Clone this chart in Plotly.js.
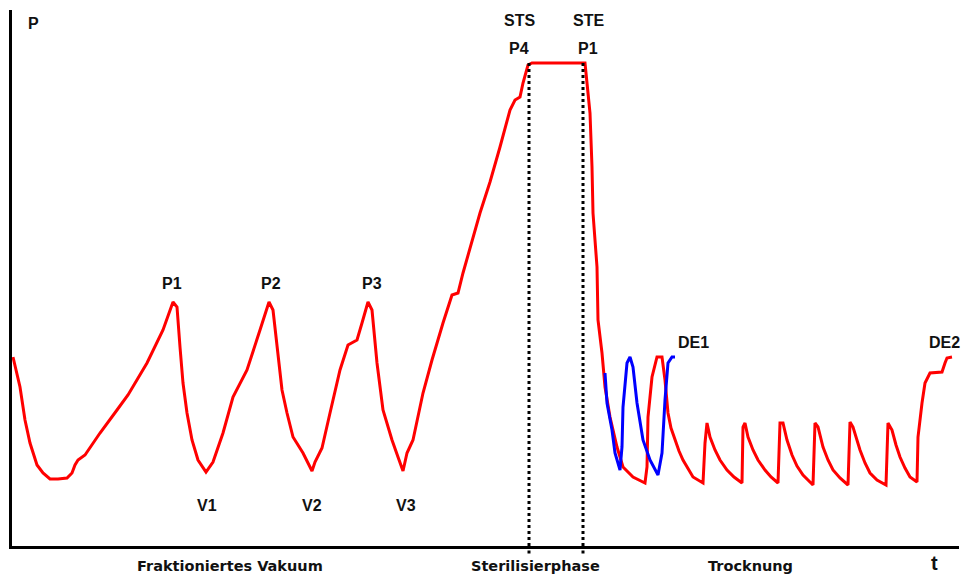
<!DOCTYPE html>
<html>
<head>
<meta charset="utf-8">
<script src="https://cdn.plot.ly/plotly-3.0.1.min.js"></script>
<style>html,body{margin:0;padding:0;background:#fff;}#chart{width:962px;height:576px;}</style>
</head>
<body>
<div id="chart"></div>
<script>
// Pressure curve of a sterilisation cycle (time, pressure) in arbitrary units
const redTime = [13,20,25,30,37,43,50,58,67,72,75,78,85,100,117,128,147,163,173,177,180,183,187,192,198,206,213,223,233,247,260,269,273,277,282,287,293,303,312,315,322,330,340,348,357,362,368,372,377,383,392,398,403,407,413,423,432,443,452,458,463,480,490,500,510,515,520,523,528,532,582,585,587,590,592,593,597,598,602,605,610,617,623,633,645,647,648,652,657,
  662,665,668,671,675,679,683,688,693,703,705,707,710,715,720,727,734,742,743,745,748,753,758,765,771,778,780,783,787,792,797,803,813,815,818,823,828,833,840,848,850,853,860,865,870,877,886,888,892,896,900,905,910,917,918,922,925,930,942,945,947,952];
const redPressure = [189,159,126,103,81,73,67,67,68,73,81,86,91,113,136,151,183,216,244,239,199,163,133,106,86,74,84,113,149,176,216,244,236,199,156,133,109,93,75,84,98,133,176,201,206,223,244,236,183,136,106,89,75,93,106,153,186,223,251,253,273,333,364,399,436,446,449,463,481,483,483,483,463,433,379,333,279,226,193,159,129,99,79,69,63,79,129,169,189,
  189,166,133,118,106,95,86,77,69,63,103,123,109,96,86,76,69,63,119,123,109,96,86,76,69,63,123,123,106,91,80,71,61,123,119,99,86,76,68,61,124,119,96,83,73,66,61,123,116,101,89,78,69,64,109,143,163,173,174,183,188,189];
const blueTime = [605,607,612,615,620,622,623,627,630,633,637,643,650,658,662,665,668,672,675];
const bluePressure = [173,143,116,93,76,99,139,183,189,179,143,106,86,71,93,146,183,189,189];

// phase boundaries (STS / STE)
const phaseTimes = [529, 583];
const phaseTopPressure = 483;

// point labels
const labelText = ['P1','P2','P3','V1','V2','V3','STS','P4','STE','P1','DE1','DE2','P'];
const labelTime = [172,271,372,207,312,406,519,519,588,588,693,944,33];
const labelPressure = [263,263,263,41,41,41,526,498,526,498,204,204,523];

// phase names below the axis
const phaseNames = ['Fraktioniertes Vakuum','Sterilisierphase','Trocknung'];
const phaseNameTime = [230,535,750];

const traces = [
  {x: redTime, y: redPressure, mode: 'lines', line: {color: '#ff0000', width: 3}, hoverinfo: 'skip'},
  {x: blueTime, y: bluePressure, mode: 'lines', line: {color: '#0000ff', width: 3}, hoverinfo: 'skip'}
];

const shapes = [];
phaseTimes.forEach(t => {
  shapes.push({type: 'line', xref: 'x', yref: 'y', x0: t, x1: t, y0: 0, y1: phaseTopPressure,
    line: {color: '#000', width: 3, dash: 'dot'}});
  shapes.push({type: 'line', xref: 'x', yref: 'paper', x0: t, x1: t, y0: -0.014, y1: 0,
    line: {color: '#000', width: 3, dash: 'dot'}});
});

const annotations = [];
labelText.forEach((s, i) => {
  annotations.push({x: labelTime[i], y: labelPressure[i], xref: 'x', yref: 'y', text: '<b>' + s + '</b>', showarrow: false,
    xanchor: 'center', yanchor: 'middle', font: {family: 'Liberation Sans, Arial, sans-serif', size: 16, color: '#111'}});
});
phaseNames.forEach((s, i) => {
  annotations.push({x: phaseNameTime[i], y: 0, xref: 'x', yref: 'paper', yshift: -20, text: '<b>' + s + '</b>', showarrow: false,
    xanchor: 'center', yanchor: 'middle', font: {family: 'DejaVu Sans, Verdana, sans-serif', size: 14.5, color: '#111'}});
});
annotations.push({x: 934, y: 0, xref: 'x', yref: 'paper', yshift: -17, text: '<b>t</b>', showarrow: false,
  xanchor: 'center', yanchor: 'middle', font: {family: 'Liberation Sans, Arial, sans-serif', size: 20, color: '#111'}});

const layout = {
  width: 962, height: 576,
  margin: {l: 12, r: 3, t: 10, b: 30, pad: 0},
  paper_bgcolor: '#fff', plot_bgcolor: '#fff',
  showlegend: false,
  xaxis: {range: [12, 959], showline: true, linecolor: '#000', linewidth: 3, showgrid: false, zeroline: false,
    showticklabels: false, ticks: '', fixedrange: true},
  yaxis: {range: [0, 536], showline: true, linecolor: '#000', linewidth: 3, showgrid: false, zeroline: false,
    showticklabels: false, ticks: '', fixedrange: true},
  shapes: shapes,
  annotations: annotations
};

Plotly.newPlot('chart', traces, layout, {displayModeBar: false, staticPlot: true});
</script>
</body>
</html>
